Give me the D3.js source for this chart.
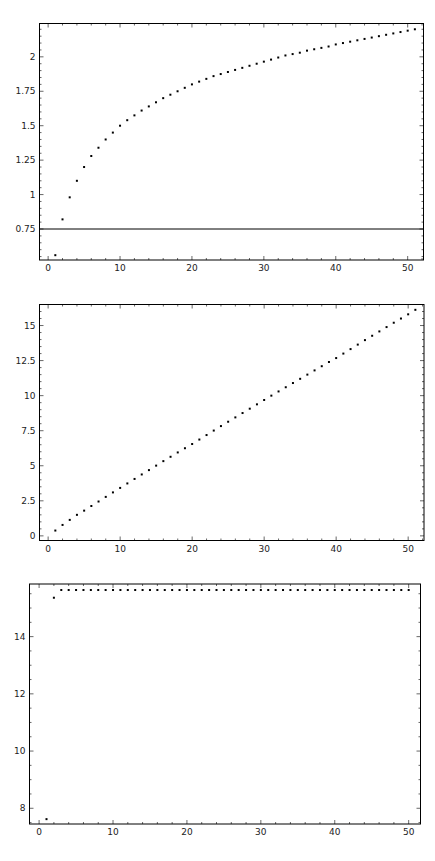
<!DOCTYPE html><html><head><meta charset="utf-8"><script src="https://cdn.jsdelivr.net/npm/d3@7"></script>
<style>body{margin:0;background:#fff}svg{display:block}text{font-family:"DejaVu Sans",sans-serif;font-size:9px;fill:#222}</style></head><body>
<script>
const xTicks=[0,10,20,30,40,50];
const values1=[0.56,0.82,0.98,1.10,1.20,1.28,1.34,1.40,1.45,1.50,1.54,1.575,1.61,1.64,1.67,1.70,1.725,1.75,1.775,1.80,1.82,1.84,1.86,1.875,1.89,1.905,1.92,1.935,1.95,1.965,1.98,1.995,2.01,2.02,2.03,2.045,2.055,2.065,2.075,2.09,2.10,2.11,2.12,2.13,2.14,2.15,2.16,2.17,2.18,2.19,2.20];
const refLine1=0.75;
const yTicks1=[0.75,1,1.25,1.5,1.75,2];
const values2=[0.38,0.78,1.14,1.50,1.80,2.13,2.45,2.78,3.10,3.42,3.74,4.06,4.38,4.69,5.01,5.33,5.64,5.95,6.25,6.55,6.87,7.19,7.51,7.83,8.14,8.45,8.76,9.07,9.38,9.69,10.0,10.3,10.6,10.9,11.2,11.5,11.8,12.1,12.4,12.68,13.0,13.32,13.64,13.96,14.27,14.58,14.89,15.2,15.5,15.8,16.12];
const yTicks2=[0,2.5,5,7.5,10,12.5,15];
const values3=[7.62,15.36].concat(Array(48).fill(15.63));
const yTicks3=[8,10,12,14];

const svg=d3.select("body").append("svg").attr("width",435).attr("height",861);
function panel(o){
  const x=d3.scaleLinear().domain(o.xd).range([o.l,o.r]);
  const y=d3.scaleLinear().domain(o.yd).range([o.b,o.t]);
  const g=svg.append("g");
  g.append("rect").attr("x",o.l).attr("y",o.t).attr("width",o.r-o.l).attr("height",o.b-o.t).attr("fill","none").attr("stroke","#000").attr("stroke-width",1);
  const xs=d3.range(0,Math.floor(o.xd[1])+1,2), ys=d3.range(Math.ceil(o.yd[0]/o.ym)*o.ym,o.yd[1],o.ym);
  xs.forEach(v=>{const M=v%10===0,L=M?4:2;
    g.append("line").attr("x1",x(v)).attr("x2",x(v)).attr("y1",o.b).attr("y2",o.b-L).attr("stroke","#000").attr("stroke-width",0.6);
    g.append("line").attr("x1",x(v)).attr("x2",x(v)).attr("y1",o.t).attr("y2",o.t+L).attr("stroke","#000").attr("stroke-width",0.6);});
  ys.forEach(v=>{const M=o.yt.some(t=>Math.abs(t-v)<1e-6),L=M?4:2;
    g.append("line").attr("y1",y(v)).attr("y2",y(v)).attr("x1",o.l).attr("x2",o.l+L).attr("stroke","#000").attr("stroke-width",0.6);
    g.append("line").attr("y1",y(v)).attr("y2",y(v)).attr("x1",o.r).attr("x2",o.r-L).attr("stroke","#000").attr("stroke-width",0.6);});
  xTicks.forEach(v=>g.append("text").attr("x",x(v)).attr("y",o.b+11).attr("text-anchor","middle").text(v));
  o.yt.forEach(v=>g.append("text").attr("x",o.l-4).attr("y",y(v)+3).attr("text-anchor","end").text(v));
  if(o.ref!=null) g.append("line").attr("x1",o.l).attr("x2",o.r).attr("y1",y(o.ref)).attr("y2",y(o.ref)).attr("stroke","#000").attr("stroke-width",1);
  o.vals.forEach((v,i)=>g.append("rect").attr("x",x(i+1)-1).attr("y",y(v)-1).attr("width",2).attr("height",2).attr("fill","#000"));
}
panel({l:39.5,r:423.5,t:23.5,b:260,xd:[-1.2,52.2],yd:[0.525,2.242],ym:0.05,yt:yTicks1,vals:values1,ref:refLine1});
panel({l:39.5,r:424,t:304.5,b:540.5,xd:[-1.2,52.2],yd:[-0.33,16.5],ym:0.5,yt:yTicks2,vals:values2});
panel({l:29.5,r:420.5,t:584,b:824,xd:[-1.3,51.6],yd:[7.45,15.84],ym:0.5,yt:yTicks3,vals:values3});
</script></body></html>
